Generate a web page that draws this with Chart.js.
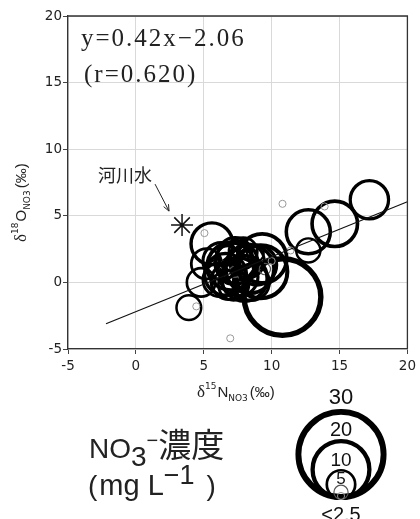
<!DOCTYPE html>
<html>
<head>
<meta charset="utf-8">
<script src="https://cdn.jsdelivr.net/npm/chart.js@4.4.1/dist/chart.umd.min.js"></script>
<style>
html, body { margin: 0; padding: 0; background: #fff; }
#wrap { position: relative; width: 420px; height: 519px; overflow: hidden; }
#main { position: absolute; left: 0; top: 0; }
#key { position: absolute; left: 280px; top: 370px; }
</style>
</head>
<body>
<div id="wrap">
  <canvas id="main" width="420" height="519"></canvas>
  <canvas id="key" width="130" height="149"></canvas>
</div>
<script>
// samples: d15N, d18O, nitrate concentration (mg/L)
const d15N = [10.8, 17.2, 14.65, 12.7, 12.7, 3.9, 5.6, 4.8, 5.2,
  9.3, 9.2, 7.0, 6.6, 7.6, 8.2, 6.2, 7.2, 8.5, 6.8, 7.8, 6.0, 8.8, 7.3, 6.5, 9.5,
  7.4, 8.0, 6.9, 8.9, 7.3, 8.4, 6.3, 7.9, 7.0, 8.0, 6.7,
  10.8, 13.9, 5.05, 6.95, 4.45, 10.0, 11.4];
const d18O = [-1.1, 6.2, 4.4, 3.8, 2.4, -1.9, 2.9, 0.0, 1.4,
  1.8, 0.8, 1.2, 0.6, 0.4, 1.6, 0.2, -0.2, 0.0, 1.8, 1.0, 1.0, 2.2, 0.8, 1.3, 1.0,
  1.5, 0.3, 0.1, 1.3, 2.1, 1.0, 1.6, 2.3, 0.6, 1.7, 1.0,
  5.9, 5.7, 3.7, -4.2, -1.8, 1.6, 2.4];
const no3 = [27, 13.5, 16, 15.5, 8.5, 8.7, 14.7, 10, 10.7,
  17.3, 18.7, 16.7, 14.7, 13.3, 12, 12, 10.7, 12.7, 8.7, 8, 6.7, 6, 4, 3, 4,
  15, 16, 13, 14, 12, 17, 13, 10, 7, 6.5, 6,
  2.5, 2.5, 2.5, 2.5, 2.5, 2.5, 2.5];

// river water
const riverN = [3.4];
const riverO = [4.3];

// regression line as drawn
const fitX = [-2.2, 20];
const fitY = [-3.1, 6.05];

const xTicks = [-5, 0, 5, 10, 15, 20];
const yTicks = [-5, 0, 5, 10, 15, 20];

// size key
const keyValues = [30, 20, 10, 5, 2.5];
const keyLabels = ['30', '20', '10', '5', '<2.5'];

const rOf = c => 1.42 * c;
const wOf = c => c >= 6 ? 1.1 + 0.16 * c : (c >= 4 ? 1.2 : 1);
const colOf = c => c >= 6 ? '#000' : (c >= 4 ? '#555' : '#999');

Chart.defaults.font.family = '"DejaVu Sans", sans-serif';

function rich(ctx, parts, x, y, angle) {
  ctx.save();
  ctx.translate(x, y);
  ctx.rotate(angle || 0);
  ctx.textAlign = 'left';
  ctx.textBaseline = 'alphabetic';
  let cx = 0;
  parts.forEach(p => {
    ctx.font = p.f;
    ctx.fillStyle = p.c || '#222';
    cx += p.dx || 0;
    ctx.fillText(p.t, cx, p.dy || 0);
    cx += ctx.measureText(p.t).width;
  });
  ctx.restore();
}

function axisTitle(sup) {
  return [
    { t: 'δ', f: '17px "Liberation Serif"' },
    { t: sup, f: '9px "DejaVu Sans"', dy: -8 },
    { t: sup === '15' ? 'N' : 'O', f: '15px "Liberation Sans"', dx: 1 },
    { t: 'NO3', f: '9px "DejaVu Sans"', dy: 4 },
    { t: '(‰)', f: '15px "Liberation Sans"', dx: 2 }
  ];
}

const decor = {
  id: 'decor',
  afterDraw(chart) {
    const ctx = chart.ctx;
    const a = chart.chartArea;
    const sx = chart.scales.x, sy = chart.scales.y;

    // frame top and right
    ctx.save();
    ctx.strokeStyle = '#333';
    ctx.lineWidth = 1.3;
    ctx.beginPath();
    ctx.moveTo(a.left, a.top);
    ctx.lineTo(a.right, a.top);
    ctx.lineTo(a.right, a.bottom);
    ctx.stroke();
    ctx.restore();

    // equation
    ctx.save();
    ctx.fillStyle = '#222';
    ctx.font = '25px "Liberation Serif"';
    ctx.letterSpacing = '2px';
    ctx.textBaseline = 'alphabetic';
    ctx.fillText('y=0.42x−2.06', 81, 46);
    ctx.fillText('(r=0.620)', 84, 82);
    ctx.letterSpacing = '0px';

    // river label and arrow
    ctx.font = '18px "Noto Sans CJK JP"';
    ctx.textBaseline = 'middle';
    ctx.fillText('河川水', 98, 175);
    const px = sx.getPixelForValue(riverN[0]);
    const py = sy.getPixelForValue(riverO[0]);
    const x0 = px - 27, y0 = py - 41, x1 = px - 13, y1 = py - 14;
    ctx.strokeStyle = '#222';
    ctx.lineWidth = 1;
    ctx.beginPath();
    ctx.moveTo(x0, y0);
    ctx.lineTo(x1, y1);
    const ang = Math.atan2(y1 - y0, x1 - x0);
    ctx.moveTo(x1 - 7 * Math.cos(ang - 0.4), y1 - 7 * Math.sin(ang - 0.4));
    ctx.lineTo(x1, y1);
    ctx.lineTo(x1 - 7 * Math.cos(ang + 0.4), y1 - 7 * Math.sin(ang + 0.4));
    ctx.stroke();
    ctx.restore();

    // axis titles
    rich(ctx, axisTitle('15'), 197, 397, 0);
    rich(ctx, axisTitle('18'), 26, 242, -Math.PI / 2);

    // concentration key title
    rich(ctx, [
      { t: 'NO', f: '28px "Liberation Sans"' },
      { t: '3', f: '28px "Liberation Sans"', dy: 8 },
      { t: '−', f: '20px "Liberation Sans"', dy: -11 },
      { t: '濃度', f: '33px "Noto Sans CJK JP"', dy: -1 }
    ], 89, 458, 0);
    rich(ctx, [
      { t: '(', f: '28px "Liberation Sans"' },
      { t: 'mg L', f: '29px "Liberation Sans"', dx: 2 },
      { t: '−1', f: '27px "Liberation Sans"', dy: -11 },
      { t: ')', f: '28px "Liberation Sans"', dx: 12 }
    ], 88, 495, 0);
  }
};

const axisCommon = {
  type: 'linear',
  grid: { color: '#d9d9d9', lineWidth: 1, tickColor: '#444', tickLength: 5 },
  border: { color: '#333', width: 1.3 },
  ticks: { color: '#222', font: { size: 13.5 }, maxRotation: 0 }
};

new Chart(document.getElementById('main'), {
  type: 'bubble',
  data: {
    datasets: [
      {
        type: 'line',
        data: fitX.map((x, i) => ({ x: x, y: fitY[i] })),
        borderColor: '#111',
        borderWidth: 1.2,
        pointRadius: 0,
        order: 0
      },
      {
        type: 'scatter',
        data: riverN.map((x, i) => ({ x: x, y: riverO[i] })),
        pointStyle: 'star',
        pointRadius: 11,
        borderColor: '#111',
        borderWidth: 1.5,
        backgroundColor: 'transparent',
        order: 1
      },
      {
        data: d15N.map((x, i) => ({ x: x, y: d18O[i], r: rOf(no3[i]) })),
        borderColor: ctx => colOf(no3[ctx.dataIndex]),
        borderWidth: ctx => wOf(no3[ctx.dataIndex]),
        backgroundColor: 'transparent',
        order: 2
      }
    ]
  },
  options: {
    responsive: false,
    animation: false,
    events: [],
    layout: { autoPadding: false, padding: { top: 16, right: 11, left: 0, bottom: 0 } },
    plugins: { legend: { display: false }, tooltip: { enabled: false } },
    scales: {
      x: Object.assign({}, axisCommon, {
        min: -5, max: 20,
        ticks: Object.assign({}, axisCommon.ticks, { padding: 4 }),
        afterBuildTicks: s => { s.ticks = xTicks.map(v => ({ value: v })); },
        afterFit: s => { s.height = 170; }
      }),
      y: Object.assign({}, axisCommon, {
        min: -5, max: 20,
        ticks: Object.assign({}, axisCommon.ticks, { padding: 1 }),
        afterBuildTicks: s => { s.ticks = yTicks.map(v => ({ value: v })); },
        afterFit: s => { s.width = 68; }
      })
    }
  },
  plugins: [decor]
});

const keyText = {
  id: 'keyText',
  afterDatasetsDraw(chart) {
    const ctx = chart.ctx;
    const els = chart.getDatasetMeta(0).data;
    const sizes = [22, 20, 19, 17, 20];
    const gaps = [5, 3, 3, 1];
    ctx.save();
    ctx.fillStyle = '#111';
    ctx.textAlign = 'center';
    ctx.textBaseline = 'alphabetic';
    els.forEach((el, i) => {
      ctx.font = sizes[i] + 'px "Liberation Sans"';
      const top = el.y - el.options.radius - el.options.borderWidth / 2;
      if (i < keyLabels.length - 1) {
        ctx.fillText(keyLabels[i], el.x, top - gaps[i]);
      } else {
        ctx.fillText(keyLabels[i], el.x, chart.height + 2);
      }
    });
    ctx.restore();
  }
};

new Chart(document.getElementById('key'), {
  type: 'bubble',
  data: {
    datasets: [{
      data: keyValues.map(c => ({ x: 61, y: 19 + rOf(c) + wOf(c) / 2, r: rOf(c) })),
      borderColor: ctx => colOf(keyValues[ctx.dataIndex]),
      borderWidth: ctx => wOf(keyValues[ctx.dataIndex]),
      backgroundColor: 'transparent',
      clip: false
    }]
  },
  options: {
    responsive: false,
    animation: false,
    events: [],
    layout: { autoPadding: false, padding: 0 },
    plugins: { legend: { display: false }, tooltip: { enabled: false } },
    scales: {
      x: { type: 'linear', display: false, min: 0, max: 130 },
      y: { type: 'linear', display: false, min: 0, max: 149 }
    }
  },
  plugins: [keyText]
});
</script>
</body>
</html>
